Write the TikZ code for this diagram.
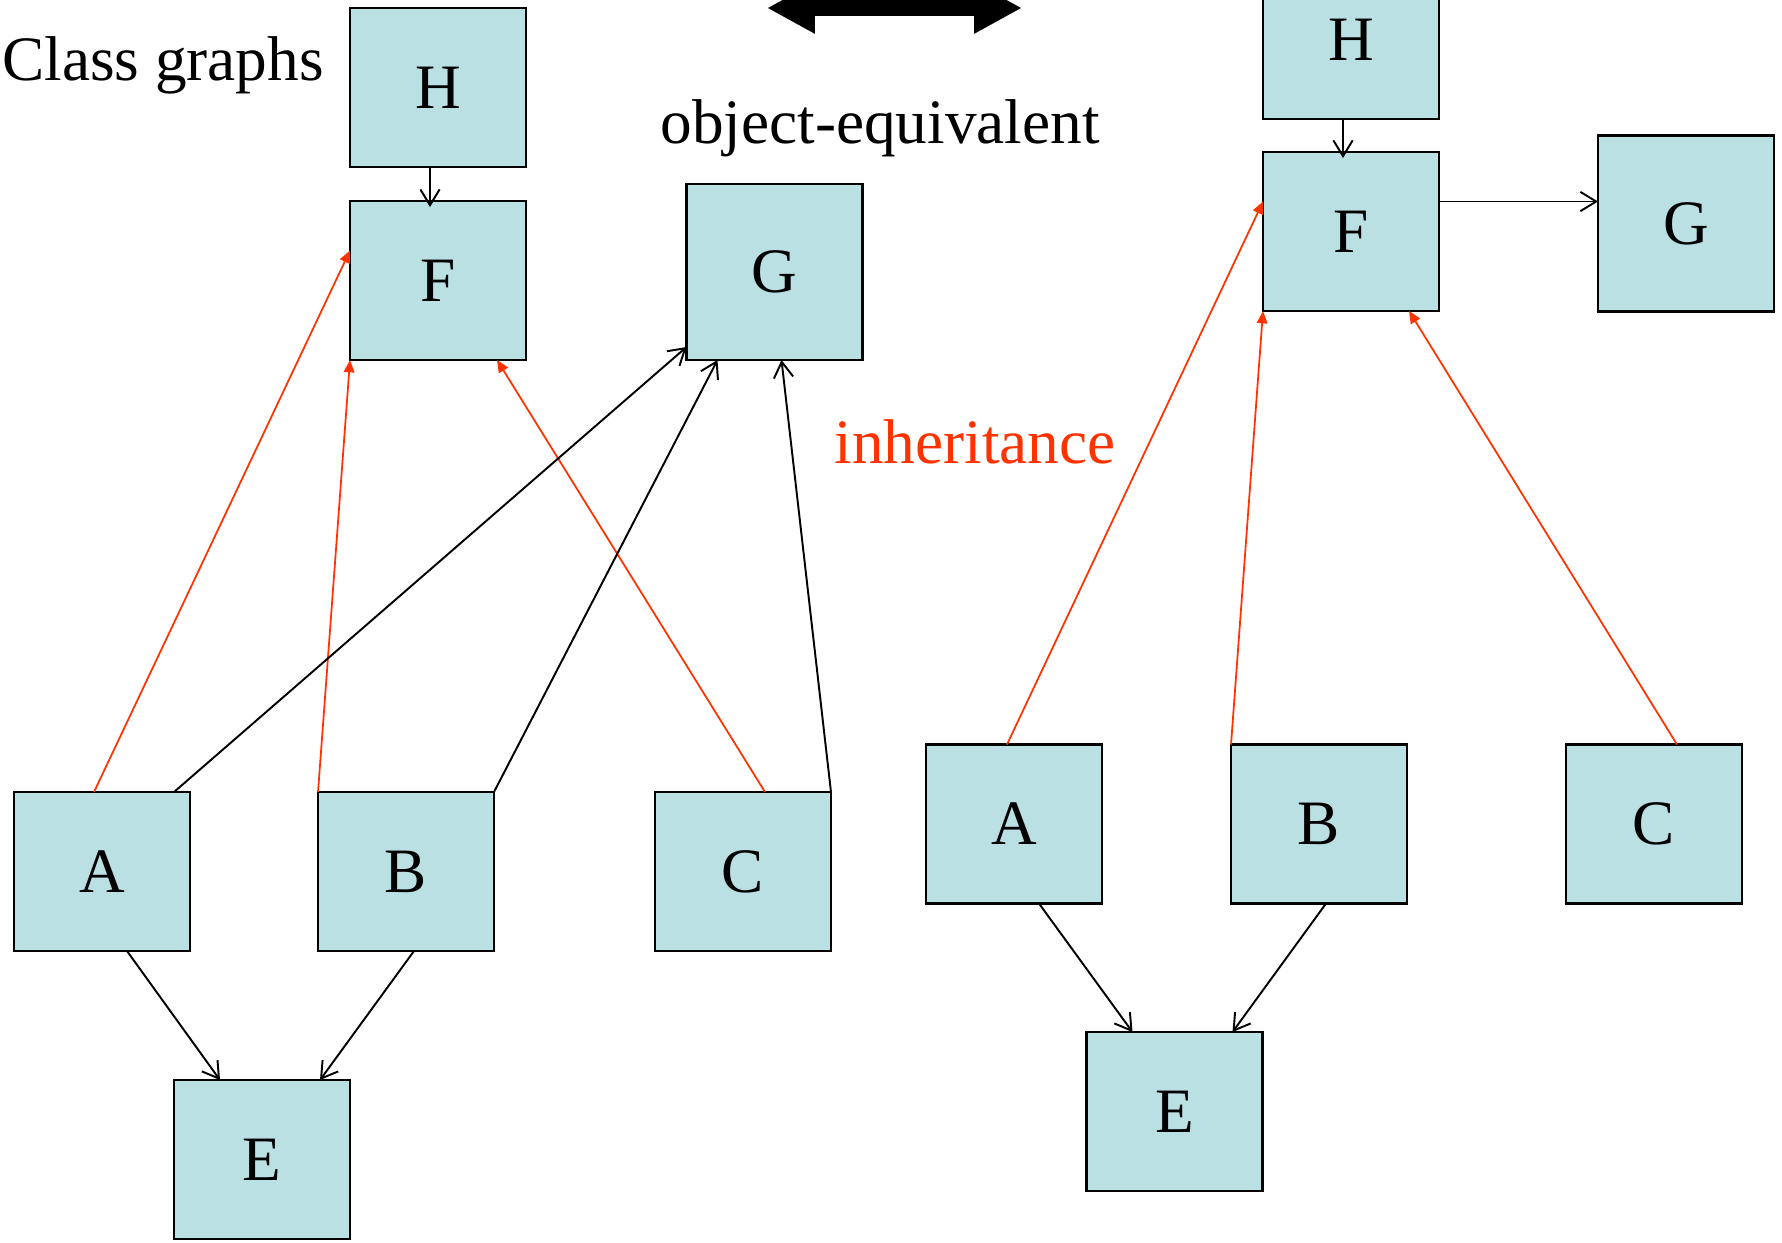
\documentclass[tikz,border=0pt]{standalone}
\usepackage{fontspec}
\setmainfont{Liberation Serif}
\usetikzlibrary{arrows.meta}
\usetikzlibrary{calc}
\definecolor{boxfill}{RGB}{187,224,227}
\definecolor{inhred}{RGB}{255,51,0}
\tikzset{
    cls/.style={
        draw, line width=1.2pt, fill=boxfill,
        minimum width=3.52cm, minimum height=3.18cm,
        inner sep=0pt, outer sep=0pt,
        font=\fontsize{36}{43}\selectfont
    },
    tall/.style={minimum height=3.52cm},
    uses/.style={line width=1.1pt, -{Straight Barb[length=9pt,width=11pt]}},
    inh/.style={color=inhred, line width=1pt, -{Triangle[length=7pt,width=6pt]}},
    bigarrow/.style={line width=0.32cm,
        {Triangle[length=0.96cm,width=0.96cm]}-{Triangle[length=0.96cm,width=0.96cm]}},
    lbl/.style={inner sep=0pt, font=\fontsize{36}{43}\selectfont}
}
\newcommand{\classnode}[5][] {
	\node[cls,#1] (#2) at (#3,#4) {#5};
}

\begin{document}
\begin{tikzpicture}[x=0.02cm,y=-0.02cm]
		\clip (0,0) rectangle (1782,1242);

		% Labels
		\node[lbl, anchor=west] (title) at (2,65) {Class graphs};
		\node[lbl] (equiv) at (880,128) {object-equivalent};
		\node[lbl, text=inhred] (inhlbl) at (975,442) {inheritance};
		\coordinate (dl) at (767,8);
		\coordinate (dr) at (1022,8);
		\draw[bigarrow] (dl) -- (dr);

		% Left graph
		\classnode{lH}{438}{87.5}{H}
		\classnode{lF}{438}{280.5}{F}
		\classnode[tall]{lG}{774.5}{272}{G}
		\classnode{lA}{102}{871.5}{A}
		\classnode{lB}{406}{871.5}{B}
		\classnode{lC}{743}{871.5}{C}
		\classnode{lE}{262}{1159.5}{E}

		\draw[uses] ($(lH.south)+(-8,0)$) -- ($(lF.north)+(-8,6)$);
		\draw[inh] ($(lA.north)+(-8,0)$) -- ($(lF.west)+(0,-30)$);
		\draw[inh] (lB.north west) -- (lF.south west);
		\draw[inh] ($(lC.north)+(22,0)$) -- ($(lF.south)+(59,0)$);
		\draw[uses] ($(lA.north)+(72,0)$) -- ($(lG.south west)+(0,-13)$);
		\draw[uses] (lB.north east) -- ($(lG.south)+(-57,0)$);
		\draw[uses] (lC.north east) -- ($(lG.south)+(7,0)$);
		\draw[uses] ($(lA.south)+(25,0)$) -- ($(lE.north)+(-42,0)$);
		\draw[uses] ($(lB.south)+(8,0)$) -- ($(lE.north)+(58,0)$);

		% Right graph
		\classnode{rH}{1351}{39.5}{H}
		\classnode{rF}{1351}{231.5}{F}
		\classnode[tall]{rG}{1686}{223.5}{G}
		\classnode{rA}{1014}{824}{A}
		\classnode{rB}{1319}{824}{B}
		\classnode{rC}{1654}{824}{C}
		\classnode{rE}{1174.5}{1111.5}{E}

		\coordinate (rFG) at ($(rF.east)+(0,-30)$);
		\draw[uses] ($(rH.south)+(-8,0)$) -- ($(rF.north)+(-8,6)$);
		\draw[uses] (rFG) -- (rFG -| rG.west);
		\draw[inh] ($(rA.north)+(-7,0)$) -- ($(rF.west)+(0,-30)$);
		\draw[inh] (rB.north west) -- (rF.south west);
		\draw[inh] ($(rC.north)+(23,0)$) -- ($(rF.south)+(58,0)$);
		\draw[uses] ($(rA.south)+(25,0)$) -- ($(rE.north)+(-42,0)$);
		\draw[uses] ($(rB.south)+(7,0)$) -- ($(rE.north)+(58,0)$);

	\end{tikzpicture}
\end{document}
